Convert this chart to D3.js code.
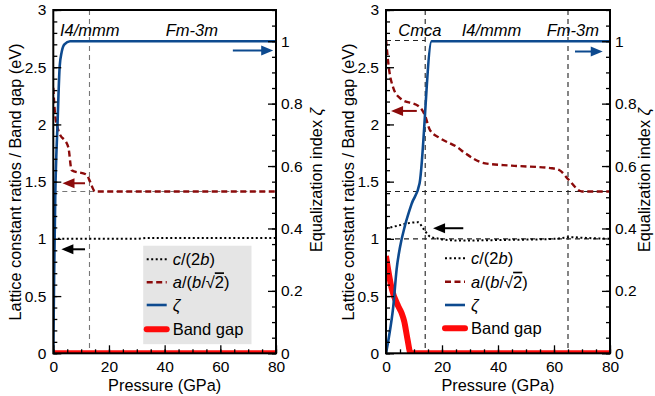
<!DOCTYPE html>
<html><head><meta charset="utf-8">
<script src="https://cdn.jsdelivr.net/npm/d3@7"></script>
<style>body{margin:0;background:#fff}svg{display:block}text{font-family:"Liberation Sans",Arial,sans-serif;fill:#000}</style>
</head><body>
<script>
// ---------- data ----------
const pressureTicks = [0, 20, 40, 60, 80];
const ratioTicks = [0, 0.5, 1, 1.5, 2, 2.5, 3];
const zetaTicks = [0, 0.2, 0.4, 0.6, 0.8, 1];

// left panel  [pressure GPa, value]
const leftC2b = [[0,1.0],[30,1.0],[34,1.008],[80,1.008]];
const leftARatio = [[0,2.32],[0.6,2.10],[1.8,1.95],[5.4,1.80],[6.6,1.60],[12,1.56],[13.2,1.50],[15,1.414],[80,1.414]];
const leftZeta = [[0,0],[0.3,0.25],[0.7,0.5],[1.5,0.73],[2.3,0.92],[3,0.965],[4,0.99],[6,1.0],[80,1.0]];
const leftGap = [[0,0],[80,0]];
const leftPhases = ["I4/mmm", "Fm-3m"];
const leftTransitions = [13];

// right panel
const rightC2b = [[0,1.09],[5,1.12],[8.6,1.14],[11.5,1.145],[13.3,1.09],[15.7,1.02],[18,1.005],[22,0.99],[28,0.985],[40,0.99],[60,1.0],[66,1.015],[70,1.01],[80,1.0]];
const rightARatio = [[0,2.74],[1.1,2.48],[2.6,2.32],[5,2.23],[12.1,2.15],[13.9,2.08],[15.7,1.95],[19.3,1.88],[25.5,1.80],[28.2,1.75],[35.4,1.66],[44.9,1.64],[59.2,1.617],[62,1.60],[65.1,1.52],[70,1.414],[80,1.414]];
const rightZeta = [[0,0],[1,0.05],[2.6,0.15],[3.8,0.27],[5,0.34],[6.8,0.41],[9.2,0.48],[12,0.545],[16.3,1.0],[80,1.0]];
const rightGap = [[0,0.85],[2,0.57],[4.4,0.41],[5.6,0.35],[6.5,0.28],[7.7,0.12],[8.8,0],[80,0]];
const rightPhases = ["Cmca", "I4/mmm", "Fm-3m"];
const rightTransitions = [14, 65];

const W = 655, H = 396;
const svg = d3.select("body").append("svg").attr("width", W).attr("height", H);
const BLUE = "#0d4a8f", DRED = "#8b0a0a", RED = "#ff0a0a";
const FS = 15.5;

function arrow(g, x1, y1, x2, y2, color) {
  g.append("line").attr("x1", x1).attr("y1", y1).attr("x2", x2 - Math.sign(x2 - x1) * 8).attr("y2", y2)
    .attr("stroke", color).attr("stroke-width", 2);
  const d = Math.sign(x2 - x1);
  g.append("path").attr("d", `M${x2},${y2} L${x2 - d * 12},${y2 - 5} L${x2 - d * 12},${y2 + 5} Z`).attr("fill", color);
}

function legendLabel(t, key) {
  const it = s => t.append("tspan").attr("font-style", "italic").text(s);
  const up = s => t.append("tspan").text(s);
  if (key === "c") { it("c"); up("/(2"); it("b"); up(")"); }
  else if (key === "a") { it("a"); up("/("); it("b"); up("/√"); t.append("tspan").attr("text-decoration", "overline").text("2"); up(")"); }
  else if (key === "z") { it("ζ"); }
  else up("Band gap");
}

function panel(o, idx) {
  const x = d3.scaleLinear().domain([0, 80]).range([o.x0, o.x1]);
  const y = d3.scaleLinear().domain([0, 3]).range([353.3, 10]);
  const y2 = d3.scaleLinear().domain([0, 1.1]).range([353.3, 10]);
  const g = svg.append("g");
  const cid = "clip" + idx;
  g.append("clipPath").attr("id", cid).append("rect")
    .attr("x", o.x0).attr("y", 10).attr("width", o.x1 - o.x0).attr("height", 343.3);

  if (o.legendBox) {
    g.append("rect").attr("x", x(o.legendBox[0])).attr("y", y(o.legendBox[3]))
      .attr("width", x(o.legendBox[1]) - x(o.legendBox[0])).attr("height", y(o.legendBox[2]) - y(o.legendBox[3]))
      .attr("fill", "#e5e5e5");
  }

  const gd = g.append("g").attr("stroke", o.guideColor).attr("stroke-width", 1.1).attr("stroke-dasharray", "5,4").attr("fill", "none");
  o.transitions.forEach(p => gd.append("line").attr("x1", x(p)).attr("x2", x(p)).attr("y1", 10).attr("y2", 353.3));
  o.hguides.forEach(h => gd.append("line").attr("x1", x(h[1])).attr("x2", x(h[2])).attr("y1", y(h[0])).attr("y2", y(h[0])));

  const data = g.append("g").attr("clip-path", `url(#${cid})`);
  const lineL = d3.line().x(d => x(d[0])).y(d => y(d[1])).curve(d3.curveMonotoneX);
  const lineR = d3.line().x(d => x(d[0])).y(d => y2(d[1])).curve(d3.curveMonotoneX);
  data.append("path").datum(o.gap).attr("d", lineL).attr("fill", "none").attr("stroke", RED).attr("stroke-width", 6).attr("stroke-linejoin", "round");
  data.append("path").datum(o.c2b).attr("d", lineL).attr("fill", "none").attr("stroke", "#000").attr("stroke-width", 2).attr("stroke-dasharray", "2,2.5");
  data.append("path").datum(o.aRatio).attr("d", lineL).attr("fill", "none").attr("stroke", DRED).attr("stroke-width", 2.4).attr("stroke-dasharray", "6,3.5");
  data.append("path").datum(o.zeta).attr("d", lineR).attr("fill", "none").attr("stroke", BLUE).attr("stroke-width", 2.6);

  o.arrows.forEach(a => {
    const sc = a.axis === "r" ? y2 : y;
    arrow(g, x(a.from), sc(a.v), x(a.to), sc(a.v), a.color);
  });

  const styleAxis = ax => { ax.select(".domain").remove(); ax.selectAll("text").attr("font-size", FS).style("font-family", '"Liberation Sans",Arial,sans-serif'); ax.selectAll("line").attr("stroke-width", 1.3); };
  g.append("g").attr("transform", `translate(${o.x0},0)`).call(d3.axisLeft(y).tickValues(d3.range(0, 3.001, 0.1)).tickSize(-4).tickFormat("")).call(styleAxis);
  g.append("g").attr("transform", `translate(${o.x0},0)`).call(d3.axisLeft(y).tickValues(ratioTicks).tickSize(-8).tickPadding(7).tickFormat(d3.format("~g"))).call(styleAxis);
  g.append("g").attr("transform", `translate(${o.x1},0)`).call(d3.axisRight(y2).tickValues(d3.range(0, 1.101, 0.05)).tickSize(-4).tickFormat("")).call(styleAxis);
  g.append("g").attr("transform", `translate(${o.x1},0)`).call(d3.axisRight(y2).tickValues(zetaTicks).tickSize(-8).tickPadding(5).tickFormat(d3.format("~g"))).call(styleAxis);
  g.append("g").attr("transform", `translate(0,353.3)`).call(d3.axisBottom(x).tickValues(d3.range(0, 80.1, 5)).tickSize(-4).tickFormat("")).call(styleAxis);
  g.append("g").attr("transform", `translate(0,353.3)`).call(d3.axisBottom(x).tickValues(pressureTicks).tickSize(-8).tickPadding(8)).call(styleAxis);

  g.append("rect").attr("x", o.x0).attr("y", 10).attr("width", o.x1 - o.x0).attr("height", 343.3)
    .attr("fill", "none").attr("stroke", "#000").attr("stroke-width", 2);

  o.phases.forEach((p, i) => g.append("text").attr("x", o.phaseX[i]).attr("y", 36).attr("font-style", "italic").attr("font-size", 16.5).text(p));

  const keys = ["c", "a", "z", "g"];
  const styles = [
    {stroke: "#000", w: 2, dash: "2,2.5"},
    {stroke: DRED, w: 2.4, dash: "6,3.5"},
    {stroke: BLUE, w: 2.6, dash: null},
    {stroke: RED, w: 6, dash: null}
  ];
  keys.forEach((k, i) => {
    const yy = o.legendY[i];
    const ln = g.append("line").attr("x1", o.legendX).attr("x2", o.legendX + 20).attr("y1", yy).attr("y2", yy)
      .attr("stroke", styles[i].stroke).attr("stroke-width", styles[i].w).attr("stroke-linecap", i === 3 ? "round" : "butt");
    if (styles[i].dash) ln.attr("stroke-dasharray", styles[i].dash);
    const t = g.append("text").attr("x", o.legendX + 26).attr("y", yy + 6).attr("font-size", 16.5);
    legendLabel(t, k);
  });

  g.append("text").attr("transform", `translate(${o.x0 - 32},182) rotate(-90)`).attr("text-anchor", "middle").attr("font-size", 16.3)
    .text("Lattice constant ratios / Band gap (eV)");
  const t2 = g.append("text").attr("transform", `translate(${o.rLabelX},180) rotate(-90)`).attr("text-anchor", "middle").attr("font-size", 16.3);
  t2.append("tspan").text("Equalization index ");
  t2.append("tspan").attr("font-style", "italic").text("ζ");
  g.append("text").attr("x", (o.x0 + o.x1) / 2).attr("y", 391).attr("text-anchor", "middle").attr("font-size", 16.3).text("Pressure (GPa)");
}

panel({
  x0: 53.3, x1: 276, c2b: leftC2b, aRatio: leftARatio, zeta: leftZeta, gap: leftGap,
  transitions: leftTransitions, hguides: [[Math.SQRT2, 0, 80]], guideColor: "#777",
  phases: leftPhases, phaseX: [60, 165.7], rLabelX: 322,
  arrows: [
    {axis: "r", v: 0.97, from: 64.5, to: 79, color: BLUE},
    {axis: "l", v: 1.486, from: 11.4, to: 3.3, color: DRED},
    {axis: "l", v: 0.909, from: 11.4, to: 2.9, color: "#000"}
  ],
  legendBox: [32.3, 71.2, 0.08, 0.94],
  legendX: 146.7, legendY: [259.3, 282.3, 305, 329.3]
}, 0);

panel({
  x0: 386, x1: 610, c2b: rightC2b, aRatio: rightARatio, zeta: rightZeta, gap: rightGap,
  transitions: rightTransitions, hguides: [[Math.SQRT2, 0, 80], [1, 0, 80], [2.733, 0, 14]], guideColor: "#222",
  phases: rightPhases, phaseX: [398.3, 461.7, 546.7], rLabelX: 650,
  arrows: [
    {axis: "r", v: 0.967, from: 67.5, to: 77.4, color: BLUE},
    {axis: "l", v: 2.118, from: 11, to: 1.8, color: DRED},
    {axis: "l", v: 1.093, from: 27.6, to: 16.8, color: "#000"}
  ],
  legendBox: null,
  legendX: 445, legendY: [258.3, 281.7, 305, 328.3]
}, 1);
</script>
</body></html>
